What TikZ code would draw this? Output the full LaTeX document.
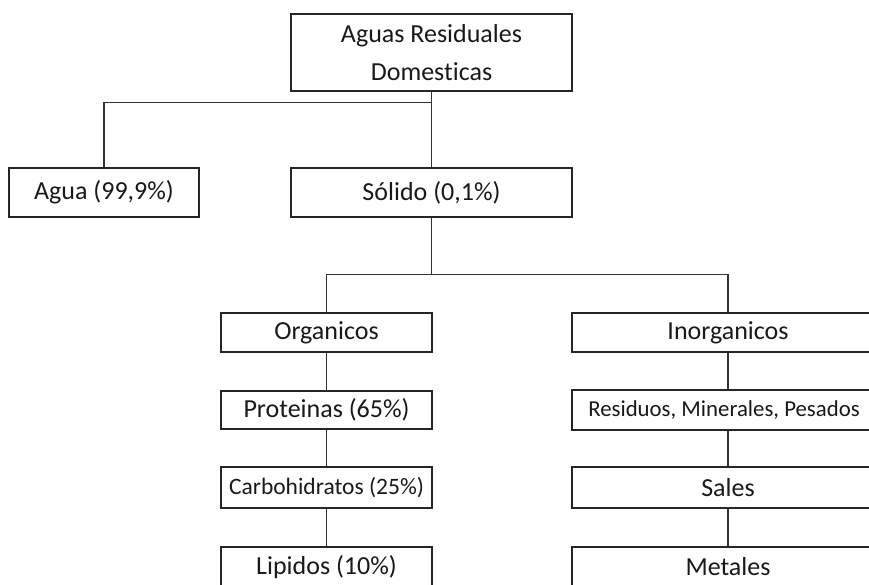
\documentclass[tikz,border=0pt]{standalone}
\usepackage{fontspec}
\setmainfont{Carlito}[Ligatures={NoCommon,NoContextual}]
\begin{document}
\begin{tikzpicture}[x=1pt,y=-1pt,
  box/.style={draw=black!85,line width=1.3pt,rectangle,inner sep=0pt,minimum height=#1,text=black!90},
  box/.default=39,
  bigtext/.style={font=\fontsize{26}{30}\selectfont},
  smalltext/.style={font=\fontsize{23.5}{26}\selectfont},
  link/.style={draw=black!80,line width=1.3pt}]
\clip (0,0) rectangle (869,584);
\fill[white] (0,0) rectangle (869,584);
\node[box=77,minimum width=281,align=center,font=\fontsize{26}{38}\selectfont] (top) at (431.5,52.5) {Aguas Residuales\\Domesticas};
\node[box=49,minimum width=190,bigtext] (agua) at (104,192.5) {Agua (99,9\%)};
\node[box=49,minimum width=281,bigtext] (sol) at (431.5,192.5) {Sólido (0,1\%)};
\node[box=39,minimum width=211,bigtext] (org) at (326.5,332.5) {Organicos};
\node[box=38,minimum width=211,bigtext] (prot) at (326.5,410) {Proteinas (65\%)};
\node[box=41,minimum width=211,smalltext] (carb) at (326.5,487.5) {Carbohidratos (25\%)};
\node[box=40,minimum width=211,bigtext] (lip) at (326.5,567) {Lipidos (10\%)};
\node[box=39,minimum width=312,bigtext] (inorg) at (728,332.5) {Inorganicos};
\node[box=40,minimum width=312,font=\fontsize{22.8}{26}\selectfont] (res) at (728,410) {\hspace*{-8pt}Residuos, Minerales, Pesados};
\node[box=41,minimum width=312,bigtext] (sal) at (728,487.5) {Sales};
\node[box=40,minimum width=312,bigtext] (met) at (728,567) {Metales};
\draw[link] (top.south) -- ++(0,11) coordinate (j1) -| (agua.north);
\draw[link] (top.south) -- (sol.north);
\draw[link] (sol.south) -- ++(0,57) coordinate (j2) -| (org.north);
\draw[link] (j2) -| (inorg.north);
\draw[link] (org) -- (prot);
\draw[link] (prot) -- (carb);
\draw[link] (carb) -- (lip);
\draw[link] (inorg) -- (res);
\draw[link] (res) -- (sal);
\draw[link] (sal) -- (met);
\end{tikzpicture}
\end{document}
